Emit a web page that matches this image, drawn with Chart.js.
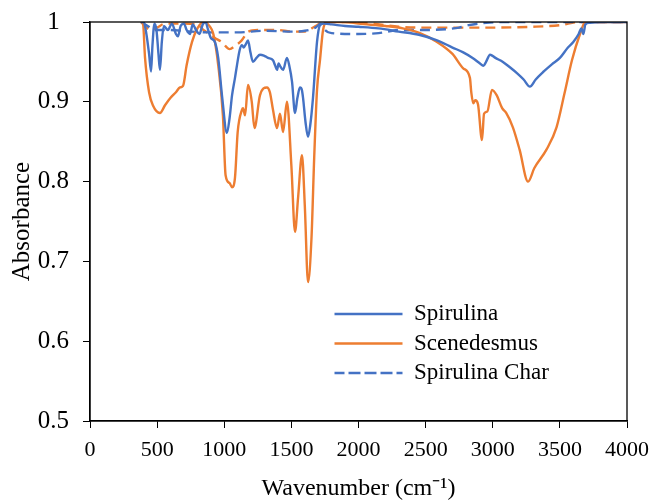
<!doctype html>
<html lang="en">
<head>
  <meta charset="utf-8" />
  <title>FTIR absorbance</title>
  <style>
    html,body{margin:0;padding:0;background:#fff}
    .wrap{position:relative;width:656px;height:503px}
  </style>
  <script src="https://cdn.jsdelivr.net/npm/chart.js@4.4.1/dist/chart.umd.min.js"></script>
</head>
<body>
<div class="wrap"><canvas id="c" width="656" height="503"></canvas></div>
<script>
// values
const spirulinaX = [380, 400, 420, 440, 455, 465, 480, 495, 510, 521, 535, 550, 580, 610, 640, 655, 675, 700, 720, 745, 765, 790, 815, 840, 860, 880, 900, 930, 955, 985, 1020, 1040, 1058, 1080, 1095, 1115, 1132, 1145, 1160, 1177, 1195, 1214, 1240, 1266, 1295, 1326, 1363, 1380, 1393, 1405, 1415, 1438, 1467, 1485, 1505, 1527, 1545, 1564, 1578, 1587, 1605, 1624, 1640, 1661, 1691, 1713, 1740, 1800, 1900, 2000, 2150, 2300, 2450, 2585, 2700, 2780, 2850, 2905, 2930, 2950, 2980, 3020, 3076, 3130, 3180, 3230, 3277, 3320, 3380, 3440, 3500, 3560, 3600, 3640, 3660, 3675, 3690, 3720, 3800, 4000];
const spirulinaY = [1.0, 1.0, 0.985, 0.96, 0.938, 0.97, 0.998, 0.99, 0.96, 0.94, 0.975, 0.995, 0.99, 0.998, 0.985, 0.982, 0.995, 0.998, 0.99, 0.985, 0.997, 0.99, 0.985, 0.997, 1.0, 0.99, 0.98, 0.975, 0.955, 0.905, 0.861, 0.88, 0.908, 0.93, 0.946, 0.965, 0.971, 0.968, 0.972, 0.977, 0.962, 0.95, 0.955, 0.959, 0.958, 0.955, 0.952, 0.945, 0.94, 0.948, 0.945, 0.94, 0.955, 0.945, 0.925, 0.886, 0.905, 0.918, 0.915, 0.905, 0.875, 0.856, 0.87, 0.905, 0.975, 0.996, 0.998, 0.997, 0.995, 0.994, 0.992, 0.988, 0.984, 0.977, 0.968, 0.962, 0.955, 0.948, 0.945, 0.95, 0.959, 0.955, 0.95, 0.943, 0.936, 0.928, 0.919, 0.928, 0.938, 0.947, 0.955, 0.968, 0.975, 0.985, 0.992, 0.985, 0.997, 0.999, 1.0, 1.0];

const scenedesmusX = [380, 395, 410, 440, 470, 521, 560, 600, 640, 670, 693, 720, 760, 800, 845, 880, 920, 955, 990, 1010, 1040, 1058, 1080, 1100, 1132, 1140, 1155, 1177, 1205, 1225, 1266, 1318, 1340, 1363, 1393, 1415, 1438, 1467, 1500, 1527, 1550, 1579, 1600, 1624, 1650, 1670, 1691, 1713, 1736, 1765, 1900, 2000, 2200, 2330, 2458, 2585, 2700, 2780, 2830, 2840, 2855, 2870, 2890, 2920, 2935, 2960, 2994, 3030, 3070, 3100, 3150, 3200, 3263, 3310, 3400, 3475, 3535, 3590, 3650, 3690, 4000];
const scenedesmusY = [1.0, 0.998, 0.955, 0.912, 0.895, 0.886, 0.896, 0.905, 0.912, 0.918, 0.92, 0.946, 0.975, 0.992, 1.0, 0.997, 0.984, 0.946, 0.883, 0.808, 0.798, 0.793, 0.805, 0.862, 0.89, 0.892, 0.883, 0.921, 0.9, 0.867, 0.908, 0.918, 0.912, 0.89, 0.867, 0.885, 0.862, 0.9, 0.82, 0.737, 0.78, 0.833, 0.77, 0.674, 0.73, 0.83, 0.915, 0.952, 0.99, 1.0, 1.0, 0.998, 0.995, 0.992, 0.986, 0.975, 0.96, 0.942, 0.93, 0.912, 0.898, 0.902, 0.897, 0.852, 0.885, 0.888, 0.915, 0.908, 0.892, 0.886, 0.868, 0.84, 0.8, 0.817, 0.84, 0.868, 0.911, 0.952, 0.985, 1.0, 1.0];

const spirulinaCharX = [380, 430, 480, 600, 750, 900, 1100, 1300, 1500, 1600, 1680, 1720, 1750, 1800, 2000, 2150, 2300, 2500, 2650, 2750, 2820, 2950, 3100, 4000];
const spirulinaCharY = [1.0, 0.995, 0.99, 0.99, 0.988, 0.987, 0.987, 0.989, 0.988, 0.989, 0.993, 0.998, 0.99, 0.986, 0.985, 0.986, 0.99, 0.99, 0.991, 0.993, 0.996, 0.999, 1.0, 1.0];

const scenedesmusCharX = [380, 420, 460, 500, 560, 650, 800, 845, 880, 930, 980, 1040, 1080, 1130, 1180, 1250, 1400, 1500, 1600, 1680, 1740, 1900, 2100, 2300, 2450, 2700, 3000, 3300, 3500, 3650, 4000];
const scenedesmusCharY = [1.0, 0.993, 0.99, 0.993, 0.998, 0.998, 0.997, 0.99, 0.986, 0.98, 0.975, 0.966, 0.97, 0.977, 0.988, 0.99, 0.99, 0.988, 0.988, 0.995, 1.0, 1.0, 0.998, 0.994, 0.993, 0.993, 0.993, 0.994, 0.996, 1.0, 1.0];

const xTicks = [0, 500, 1000, 1500, 2000, 2500, 3000, 3500, 4000];
const yTicks = [0.5, 0.6, 0.7, 0.8, 0.9, 1];

const BLUE = "#4472c4", ORANGE = "#ed7d31";
const SERIF = "'Liberation Serif', 'Times New Roman', serif";

const pts = (xs, ys) => xs.map((x, i) => ({ x, y: ys[i] }));
const series = (label, xs, ys, color, dash) => ({
  label, data: pts(xs, ys), borderColor: color, backgroundColor: color,
  borderWidth: 2.4, borderDash: dash, pointRadius: 0, cubicInterpolationMode: "monotone", fill: false
});

// outer box round the plot (top and right edges)
const frame = {
  id: "frame",
  afterDatasetsDraw(chart) {
    const { ctx, chartArea: a } = chart;
    ctx.save();
    ctx.strokeStyle = "#000"; ctx.lineWidth = 1.3;
    ctx.strokeRect(a.left, a.top, a.right - a.left, a.bottom - a.top);
    ctx.restore();
  }
};
// put the legend inside the plot, lower middle
const placeLegend = {
  id: "placeLegend",
  afterLayout(chart) {
    const lg = chart.legend, w = lg.width, h = 110;
    lg.left = 328; lg.top = 296; lg.right = 328 + w; lg.bottom = 296 + h; lg.height = h;
  }
};

new Chart(document.getElementById("c"), {
  type: "line",
  data: {
    datasets: [
      series("Spirulina", spirulinaX, spirulinaY, BLUE, []),
      series("Scenedesmus", scenedesmusX, scenedesmusY, ORANGE, []),
      series("Spirulina Char", spirulinaCharX, spirulinaCharY, BLUE, [10, 6]),
      series("Scenedesmus Char", scenedesmusCharX, scenedesmusCharY, ORANGE, [10, 6])
    ]
  },
  options: {
    responsive: false,
    animation: false,
    layout: { padding: { top: 22, right: 29, left: 0, bottom: 0 } },
    plugins: {
      legend: {
        position: "chartArea", align: "start",
        labels: {
          color: "#000", font: { family: SERIF, size: 23 },
          boxWidth: 68, boxHeight: 0, padding: 6.5,
          filter: (item) => item.datasetIndex < 3
        }
      },
      tooltip: { enabled: false }
    },
    scales: {
      x: {
        type: "linear", min: 0, max: 4000,
        afterBuildTicks: (s) => { s.ticks = xTicks.map(v => ({ value: v })); },
        afterFit: (s) => { s.height = 82; s.paddingLeft = 0; s.paddingRight = 0; },
        ticks: { color: "#000", font: { family: SERIF, size: 22 }, padding: 9, maxRotation: 0, callback: (v) => String(v) },
        grid: { drawOnChartArea: false, drawTicks: true, tickLength: 7, color: "#000" },
        border: { display: true, color: "#000", width: 1.3 },
        title: { display: true, text: "Wavenumber (cm\u207B\u00B9)", color: "#000", font: { family: SERIF, size: 24 }, padding: { top: 0, bottom: 0 } }
      },
      y: {
        min: 0.5, max: 1,
        afterBuildTicks: (s) => { s.ticks = yTicks.map(v => ({ value: v })); },
        afterFit: (s) => { s.width = 90; s.paddingTop = 0; s.paddingBottom = 0; },
        ticks: { color: "#000", font: { family: SERIF, size: 25 }, padding: 14, crossAlign: "center", callback: (v) => String(+v.toFixed(1)) },
        grid: { drawOnChartArea: false, drawTicks: true, tickLength: 7, color: "#000" },
        border: { display: true, color: "#000", width: 1.3 },
        title: { display: true, text: "Absorbance", color: "#000", font: { family: SERIF, size: 25 }, padding: { top: 7, bottom: 0 } }
      }
    }
  },
  plugins: [frame, placeLegend]
});
</script>
</body>
</html>
